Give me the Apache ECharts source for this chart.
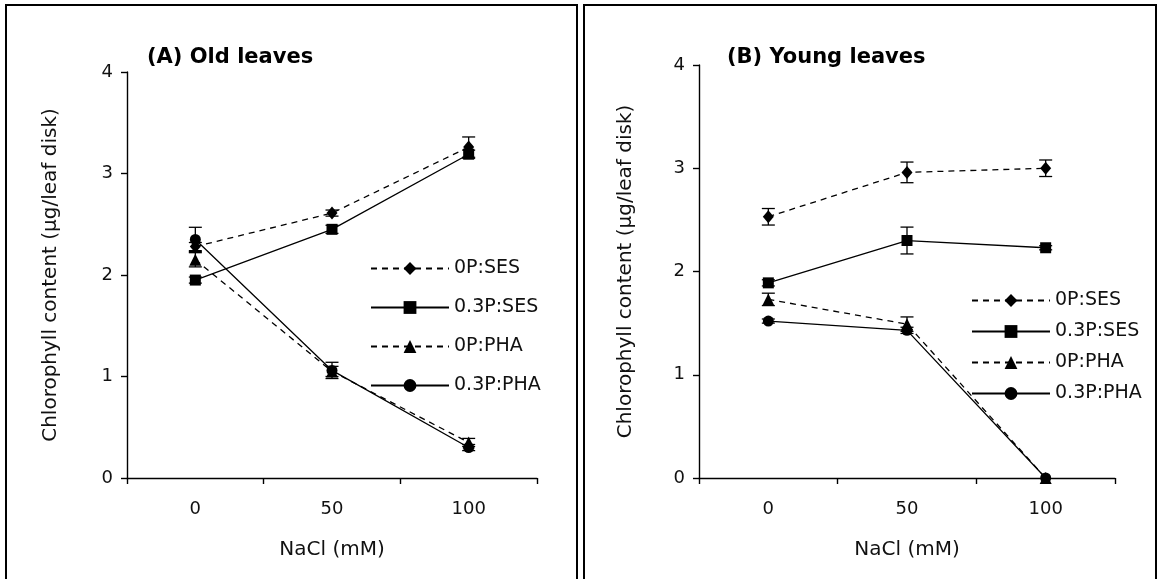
<!DOCTYPE html>
<html><head><meta charset="utf-8">
<script src="https://cdn.jsdelivr.net/npm/echarts@6.0.0/dist/echarts.min.js"></script>
<style>html,body{margin:0;padding:0;background:#fff}#c{width:1159px;height:579px}</style>
</head><body><div id="c"></div>
<script>
// ---- data ----
const categories = ['0', '50', '100'];
const seriesNames = ['0P:SES', '0.3P:SES', '0P:PHA', '0.3P:PHA'];
const panelTitles = ['(A) Old leaves', '(B) Young leaves'];
const xAxisName = 'NaCl (mM)';
const yAxisName = 'Chlorophyll content (µg/leaf disk)';

// (A) Old leaves
const oldSes0P = [2.28, 2.61, 3.26];
const oldSes0PErr = [0.04, 0.03, 0.10];
const oldSes03P = [1.95, 2.45, 3.19];
const oldSes03PErr = [0.03, 0.04, 0.04];
const oldPha0P = [2.15, 1.05, 0.35];
const oldPha0PErr = [0.07, 0.05, 0.04];
const oldPha03P = [2.35, 1.06, 0.30];
const oldPha03PErr = [0.12, 0.08, 0.03];

// (B) Young leaves
const youngSes0P = [2.53, 2.96, 3.00];
const youngSes0PErr = [0.08, 0.10, 0.08];
const youngSes03P = [1.89, 2.30, 2.23];
const youngSes03PErr = [0.03, 0.13, 0.02];
const youngPha0P = [1.73, 1.49, 0.00];
const youngPha0PErr = [0.06, 0.07, 0.00];
const youngPha03P = [1.52, 1.43, 0.00];
const youngPha03PErr = [0.02, 0.03, 0.00];

// ---- chart ----
const FONT = 'DejaVu Sans';
const symbols = ['diamond', 'rect', 'triangle', 'circle'];
const symbolSizes = [[11, 13], 11, 12, 11];
const dashed = [true, false, true, false];

const panels = [
  { vals: [oldSes0P, oldSes03P, oldPha0P, oldPha03P], errs: [oldSes0PErr, oldSes03PErr, oldPha0PErr, oldPha03PErr] },
  { vals: [youngSes0P, youngSes03P, youngPha0P, youngPha03P], errs: [youngSes0PErr, youngSes03PErr, youngPha0PErr, youngPha03PErr] }
];

function errSeries(vals, errs, gi) {
  return {
    type: 'custom', xAxisIndex: gi, yAxisIndex: gi, silent: true, z: 1,
    data: vals.map((v, i) => [i, v, errs[i]]),
    renderItem(params, api) {
      const x = api.value(0), y = api.value(1), e = api.value(2);
      if (!e) return null;
      const t = api.coord([x, y + e]), b = api.coord([x, y - e]);
      const w = 6.5;
      const style = { stroke: '#000', lineWidth: 1.3 };
      return { type: 'group', children: [
        { type: 'line', shape: { x1: t[0], y1: t[1], x2: b[0], y2: b[1] }, style },
        { type: 'line', shape: { x1: t[0] - w, y1: t[1], x2: t[0] + w, y2: t[1] }, style },
        { type: 'line', shape: { x1: b[0] - w, y1: b[1], x2: b[0] + w, y2: b[1] }, style }
      ] };
    }
  };
}

const series = [];
panels.forEach((p, gi) => {
  p.vals.forEach((vals, si) => {
    series.push(errSeries(vals, p.errs[si], gi));
    series.push({
      type: 'line', name: seriesNames[si], xAxisIndex: gi, yAxisIndex: gi, z: 2,
      data: vals, symbol: symbols[si], symbolSize: symbolSizes[si], showAllSymbol: true,
      lineStyle: { color: '#000', width: 1.3, type: dashed[si] ? [6, 5] : 'solid' },
      itemStyle: { color: '#000' }, animation: false
    });
  });
});

const axisX = (gi) => ({
  type: 'category', gridIndex: gi, data: categories, boundaryGap: true,
  axisLine: { lineStyle: { color: '#000', width: 1.4 } },
  axisTick: { show: true, length: 6, lineStyle: { color: '#000', width: 1.4 } },
  axisLabel: { margin: 22, color: '#111', fontFamily: FONT, fontSize: 18 },
  name: xAxisName, nameLocation: 'middle', nameGap: 62,
  nameTextStyle: { color: '#111', fontFamily: FONT, fontSize: 20 },
  splitLine: { show: false }
});
const axisY = (gi, gap) => ({
  type: 'value', gridIndex: gi, min: 0, max: 4, interval: 1,
  axisLine: { show: true, lineStyle: { color: '#000', width: 1.4 } },
  axisTick: { show: true, length: 6, lineStyle: { color: '#000', width: 1.4 } },
  axisLabel: { margin: 14, color: '#111', fontFamily: FONT, fontSize: 18 },
  splitLine: { show: false },
  name: yAxisName, nameLocation: 'middle', nameGap: gap, nameRotate: 90,
  nameTextStyle: { color: '#111', fontFamily: FONT, fontSize: 20 }
});

const legendBase = {
  orient: 'vertical', data: seriesNames, itemWidth: 78, itemHeight: 16, padding: 0,
  textStyle: { fontFamily: FONT, fontSize: 19, color: '#111' }, selectedMode: false
};

const option = {
  backgroundColor: '#fff',
  animation: false,
  title: [
    { text: panelTitles[0], left: 142, top: 42, textStyle: { fontFamily: FONT, fontWeight: 'bold', fontSize: 21, color: '#000' } },
    { text: panelTitles[1], left: 722, top: 42, textStyle: { fontFamily: FONT, fontWeight: 'bold', fontSize: 21, color: '#000' } }
  ],
  grid: [
    { left: 127, right: 622, top: 72, bottom: 101 },
    { left: 699, right: 44, top: 65, bottom: 101 }
  ],
  xAxis: [axisX(0), axisX(1)],
  yAxis: [axisY(0, 66), axisY(1, 63)],
  legend: [
    Object.assign({}, legendBase, { left: 370, top: 259, itemGap: 20 }),
    Object.assign({}, legendBase, { left: 971, top: 291, itemGap: 12 })
  ],
  graphic: [
    { type: 'rect', shape: { x: 6, y: 5, width: 571, height: 600 }, style: { fill: 'none', stroke: '#000', lineWidth: 2 } },
    { type: 'rect', shape: { x: 584, y: 5, width: 572, height: 600 }, style: { fill: 'none', stroke: '#000', lineWidth: 2 } }
  ],
  series
};

echarts.init(document.getElementById('c'), null, { renderer: 'canvas' }).setOption(option);
</script>
</body></html>
